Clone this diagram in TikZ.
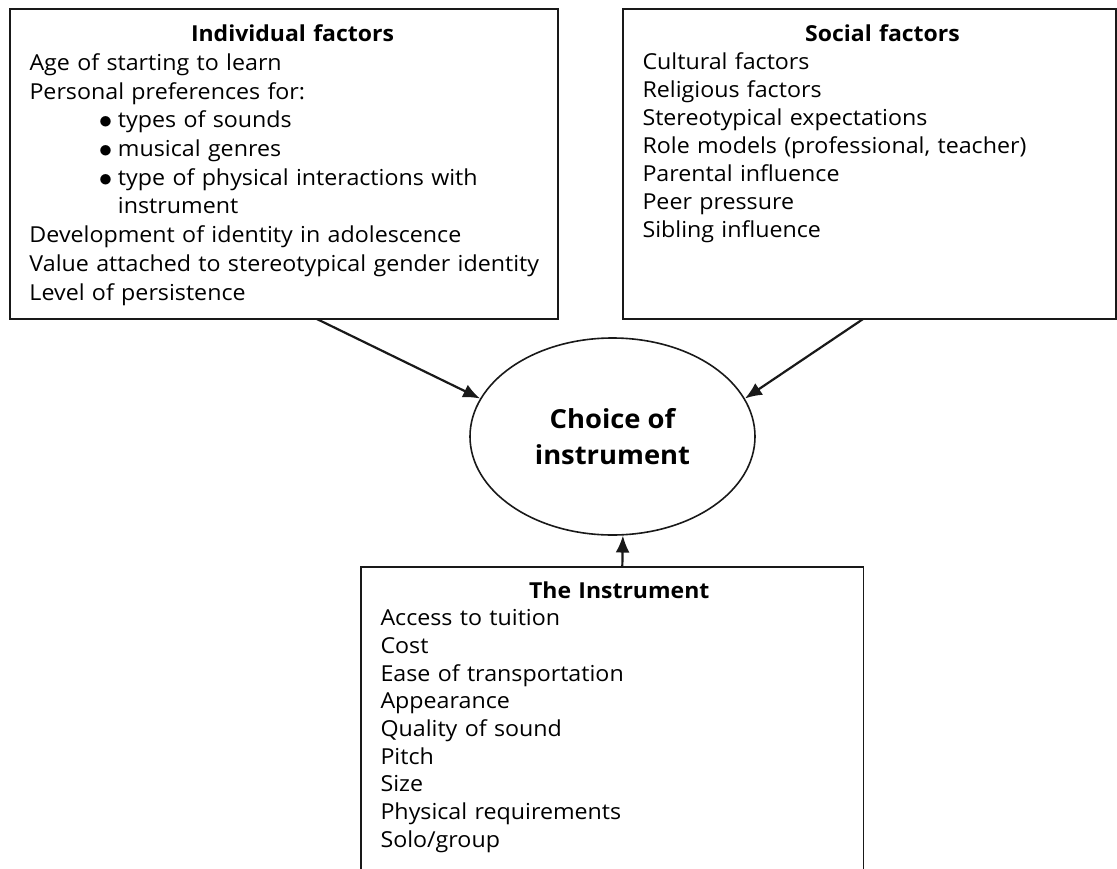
\documentclass[tikz,border=0pt]{standalone}
\usepackage{fontspec}
\setmainfont{Open Sans}[UprightFeatures={FakeStretch=1.056}, BoldFeatures={FakeStretch=1.045}]
\usetikzlibrary{arrows.meta,shapes.geometric,calc}
\newcommand{\itembullet}{\makebox[19pt][l]{\raisebox{-1pt}{\scalebox{1.3}{$\bullet$}}}}

\begin{document}
\begin{tikzpicture}[x=1pt,y=-1pt]
\tikzstyle{factor}=[rectangle, draw=black!90, line width=1.8pt, anchor=north west, align=left, inner xsep=19.5pt, inner ysep=0pt, outer sep=0pt, text height=32.4pt, text depth=277.3pt, font=\fontsize{22}{27.9}\selectfont]
\tikzstyle{choice}=[ellipse, draw=black!90, line width=1.6pt, minimum width=285pt, minimum height=197pt, inner sep=0pt, align=center, font=\bfseries\fontsize{26.2}{35.7}\selectfont]
\tikzstyle{connect}=[-{Latex[length=17pt,width=14pt]}, line width=2.2pt, draw=black!90]

  \clip (0,0) rectangle (1117,868);

  \node[factor, text width=509pt, font=\fontsize{22}{28.7}\selectfont] (indiv) at (10,9.3) {%
    {\centering\hspace*{17pt}\textbf{Individual factors}\par}
    Age of starting to learn\\
    Personal preferences for:\\
    \hspace*{69.5pt}\itembullet types of sounds\\
    \hspace*{69.5pt}\itembullet musical genres\\
    \hspace*{69.5pt}\itembullet type of physical interactions with\\
    \hspace*{88.5pt}instrument\\
    Development of identity in adolescence\\
    \mbox{Value attached to stereotypical gender identity}\\
    Level of persistence};

  \node[factor, text width=454pt] (social) at (623,9.3) {%
    {\centering\hspace*{26pt}\textbf{Social factors}\par}
    Cultural factors\\
    Religious factors\\
    Stereotypical expectations\\
    Role models (professional, teacher)\\
    Parental influence\\
    Peer pressure\\
    Sibling influence};

  \node[choice] (ch) at (612.5,436.5) {Choice of\\instrument};

  \node[factor, text width=463.5pt, text height=31pt, text depth=310pt, font=\fontsize{22}{27.7}\selectfont] (inst) at (361,567) {%
    {\centering\hspace*{14pt}\textbf{The Instrument}\par}
    Access to tuition\\
    Cost\\
    Ease of transportation\\
    Appearance\\
    Quality of sound\\
    Pitch\\
    Size\\
    Physical requirements\\
    Solo/group};

  \path ($(indiv.south west)!0.56!(indiv.south east)$) edge [connect] (ch.164);
  \path ($(social.south west)!0.487!(social.south east)$) edge [connect] (ch.16);
  \path ($(inst.north west)!0.52!(inst.north east)$) edge [connect] (ch.276);

\end{tikzpicture}
\end{document}
